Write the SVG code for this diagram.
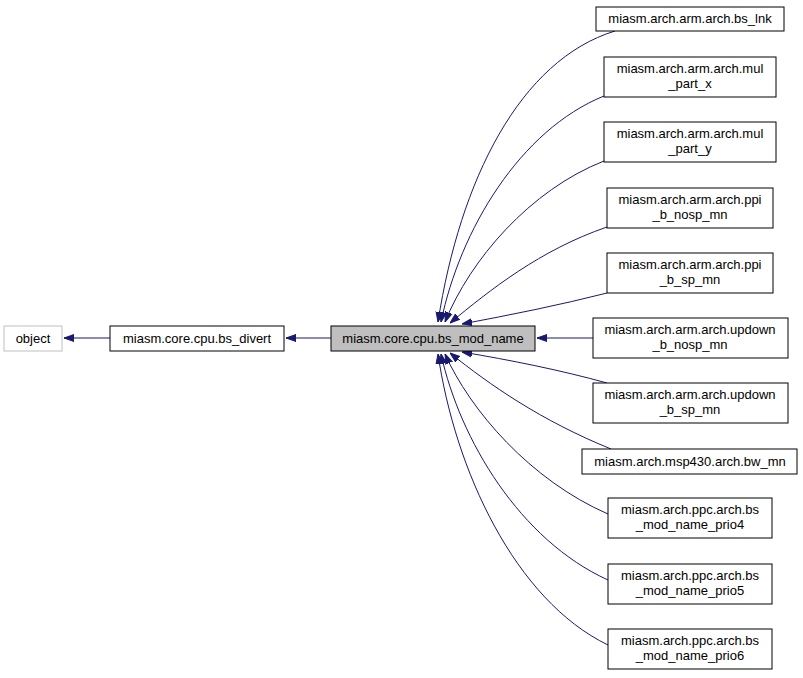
<svg xmlns="http://www.w3.org/2000/svg" width="803" height="678" viewBox="0 0 803 678">
<style>
.n rect{fill:#fff;stroke:#000;stroke-width:1}
text{font-family:"Liberation Sans",Arial,sans-serif;font-size:13px;text-anchor:middle}
.e path{fill:none;stroke:#191970;stroke-width:1}
</style>
<defs><marker id="a" viewBox="0 0 10 10" refX="10" refY="5" markerWidth="10" markerHeight="10" markerUnits="userSpaceOnUse" orient="auto"><path d="M0,1.5L10,5L0,8.5z" fill="#191970" stroke="#191970"/></marker></defs>
<rect width="803" height="678" fill="#fff"/>
<g class="e">
<path d="M110,338H64" marker-end="url(#a)"/>
<path d="M331,338H286" marker-end="url(#a)"/>
<path d="M593,338H537" marker-end="url(#a)"/>
<path d="M615,31C520,60 460,180 438,322" marker-end="url(#a)"/>
<path d="M604,96C520,130 460,230 441,322" marker-end="url(#a)"/>
<path d="M604,161C530,190 470,260 445,322" marker-end="url(#a)"/>
<path d="M607,227C540,250 490,290 450,323" marker-end="url(#a)"/>
<path d="M607,293C560,305 510,315 462,324" marker-end="url(#a)"/>
<path d="M607,383C560,370 510,360 462,352" marker-end="url(#a)"/>
<path d="M611,449C540,420 490,385 450,353" marker-end="url(#a)"/>
<path d="M608,514C530,480 470,410 445,354" marker-end="url(#a)"/>
<path d="M608,580C520,540 460,440 441,354" marker-end="url(#a)"/>
<path d="M608,645C515,600 455,470 438,354" marker-end="url(#a)"/>
</g>
<g id="object" class="n"><rect x="4" y="326" width="58" height="25" style="stroke:#bfbfbf"/><text x="33" y="343">object</text></g>
<g id="bs_divert" class="n"><rect x="110" y="326" width="174" height="25"/><text x="197" y="343">miasm.core.cpu.bs_divert</text></g>
<g id="bs_mod_name" class="n"><rect x="331" y="326" width="204" height="25" style="fill:#bfbfbf"/><text x="433" y="343">miasm.core.cpu.bs_mod_name</text></g>
<g id="bs_lnk" class="n"><rect x="596" y="7" width="188" height="24"/><text x="690" y="23">miasm.arch.arm.arch.bs_lnk</text></g>
<g id="mul_part_x" class="n"><rect x="604" y="57" width="172" height="40"/><text x="690" y="73">miasm.arch.arm.arch.mul</text><text x="690" y="88">_part_x</text></g>
<g id="mul_part_y" class="n"><rect x="604" y="122" width="172" height="40"/><text x="690" y="138">miasm.arch.arm.arch.mul</text><text x="690" y="153">_part_y</text></g>
<g id="ppi_b_nosp_mn" class="n"><rect x="607" y="188" width="166" height="40"/><text x="690" y="204">miasm.arch.arm.arch.ppi</text><text x="690" y="219">_b_nosp_mn</text></g>
<g id="ppi_b_sp_mn" class="n"><rect x="607" y="253" width="166" height="40"/><text x="690" y="269">miasm.arch.arm.arch.ppi</text><text x="690" y="284">_b_sp_mn</text></g>
<g id="updown_b_nosp_mn" class="n"><rect x="593" y="318" width="195" height="40"/><text x="690" y="334">miasm.arch.arm.arch.updown</text><text x="690" y="349">_b_nosp_mn</text></g>
<g id="updown_b_sp_mn" class="n"><rect x="593" y="383" width="195" height="40"/><text x="690" y="399">miasm.arch.arm.arch.updown</text><text x="690" y="414">_b_sp_mn</text></g>
<g id="bw_mn" class="n"><rect x="582" y="449" width="215" height="25"/><text x="690" y="466">miasm.arch.msp430.arch.bw_mn</text></g>
<g id="prio4" class="n"><rect x="608" y="498" width="164" height="40"/><text x="690" y="514">miasm.arch.ppc.arch.bs</text><text x="690" y="529">_mod_name_prio4</text></g>
<g id="prio5" class="n"><rect x="608" y="564" width="164" height="40"/><text x="690" y="580">miasm.arch.ppc.arch.bs</text><text x="690" y="595">_mod_name_prio5</text></g>
<g id="prio6" class="n"><rect x="608" y="629" width="164" height="40"/><text x="690" y="645">miasm.arch.ppc.arch.bs</text><text x="690" y="660">_mod_name_prio6</text></g>
</svg>
